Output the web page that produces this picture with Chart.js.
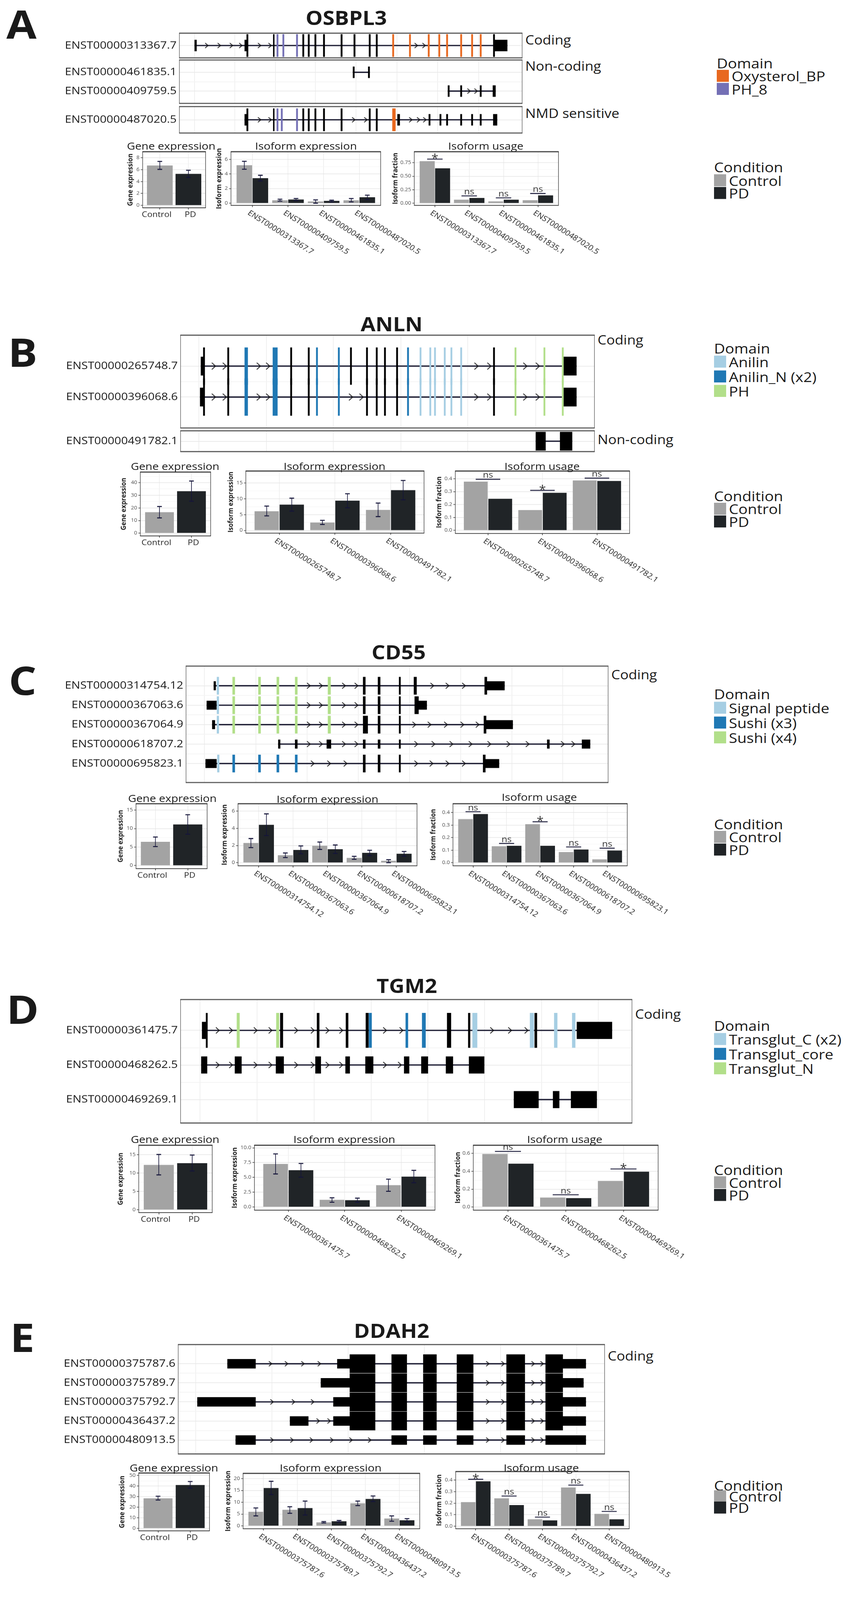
<!DOCTYPE html>
<html>
<head>
<meta charset="utf-8">
<title>Isoform switch plots</title>
<script src="https://cdn.jsdelivr.net/npm/chart.js@4.4.1/dist/chart.umd.min.js"></script>
<style>
  html, body { margin:0; padding:0; background:#ffffff; overflow:hidden; }
  #wrap { position:relative; width:2157px; height:4535px; overflow:hidden; background:#fff; }
  #page { position:relative; width:2157px; height:4535px; overflow:hidden; background:#fff;
          font-family:'Open Sans','Liberation Sans',Arial,sans-serif; color:#1a1a1a; }
  #page canvas { position:absolute; }
  .t { position:absolute; white-space:nowrap; line-height:1; }
  .sw { position:absolute; }
</style>
</head>
<body>
<div id="wrap"><div id="page"></div></div>
<script>
// ======================= DATA =======================
const conditions = ['Control', 'PD'];

// ---------- A : OSBPL3 ----------
const A_geneName = 'OSBPL3';
const A_transcripts = ['ENST00000313367.7', 'ENST00000461835.1', 'ENST00000409759.5', 'ENST00000487020.5'];
const A_domains = ['Oxysterol_BP', 'PH_8'];
// exon = [transcript row, start, end, kind]; kind 'u' = UTR / non-coding, 'c' = coding, 0/1/2 = coding inside domain
const A_exons = [
  [0,498,503,'u'],[0,626,633,'u'],[0,631,635,'c'],[0,699,702,'c'],[0,708,712,1],[0,723,727,1],[0,758,762,1],
  [0,774,778,'c'],[0,788,792,'c'],[0,805,809,'c'],[0,827,831,'c'],[0,872,876,'c'],[0,905,909,'c'],[0,944,948,'c'],[0,962,966,'c'],
  [0,1004,1008,0],[0,1047,1051,0],[0,1095,1099,0],[0,1122,1126,0],[0,1142,1146,0],[0,1178,1182,0],[0,1206,1210,0],[0,1228,1232,0],
  [0,1262,1266,'c'],[0,1264,1298,'u'],
  [1,903,907,'u'],[1,942,946,'u'],
  [2,1146,1150,'u'],[2,1178,1182,'u'],[2,1228,1232,'u'],[2,1261,1268,'u'],
  [3,626,633,'u'],[3,631,635,'c'],[3,699,702,'c'],[3,708,712,1],[3,719,723,1],[3,758,762,1],[3,774,778,'c'],[3,788,792,'c'],
  [3,805,809,'c'],[3,827,831,'c'],[3,872,876,'c'],[3,944,948,'c'],[3,962,966,'c'],[3,1004,1012,0],[3,1017,1023,'u'],
  [3,1097,1101,'u'],[3,1125,1129,'u'],[3,1142,1146,'u'],[3,1178,1182,'u'],[3,1206,1210,'u'],[3,1228,1232,'u'],[3,1262,1272,'u']
];
const A_arrows = [[0,529],[0,561],[0,592],[0,616],[0,664],[0,691],[0,1065],[0,1085],[2,1200],[2,1218],
  [3,664],[3,691],[3,905],[3,936],[3,1051],[3,1071],[3,1087]];
const A_gridPos = [498, 601, 705, 807, 911, 1016, 1120, 1225];
const A_geneExpr = [6.7, 5.3];
const A_geneLo = [6.05, 4.7];
const A_geneHi = [7.4, 5.9];
const A_isoforms = ['ENST00000313367.7', 'ENST00000409759.5', 'ENST00000461835.1', 'ENST00000487020.5'];
const A_isoCtrl = [5.2, 0.40, 0.24, 0.40];
const A_isoCtrlLo = [4.65, 0.29, 0.0, 0.19];
const A_isoCtrlHi = [5.73, 0.55, 0.45, 0.64];
const A_isoPD = [3.42, 0.50, 0.32, 0.82];
const A_isoPDLo = [3.05, 0.37, 0.19, 0.5];
const A_isoPDHi = [3.82, 0.64, 0.42, 1.1];
const A_useCtrl = [0.778, 0.065, 0.035, 0.055];
const A_usePD = [0.645, 0.098, 0.065, 0.145];
const A_sig = ['*', 'ns', 'ns', 'ns'];
const A_sigAt = [0.815, 0.135, 0.10, 0.18];
const A_geneTicks = [0, 2, 4, 6, 8];
const A_isoTicks = [0, 2, 4, 6];
const A_useTicks = [0, 0.25, 0.5, 0.75];
const A_useTickLabels = ['0.00', '0.25', '0.50', '0.75'];

// ---------- B : ANLN ----------
const B_geneName = 'ANLN';
const B_transcripts = ['ENST00000265748.7', 'ENST00000396068.6', 'ENST00000491782.1'];
const B_domains = ['Anilin', 'Anilin_N (x2)', 'PH'];
const B_exons = [
  [0,514,523,'u'],[0,520,524,'c'],[0,582,586,'c'],[0,626,634,1],[0,698,710,1],[0,743,747,'c'],[0,788,792,'c'],[0,809,813,1],
  [0,865,869,1],[0,896,900,'c'],[0,937,941,'c'],[0,962,966,'c'],[0,983,987,'c'],[0,1014,1018,'c'],[0,1042,1046,1],
  [0,1074,1078,0],[0,1099,1103,0],[0,1111,1115,0],[0,1136,1140,0],[0,1153,1157,0],[0,1178,1182,0],[0,1262,1266,'c'],
  [0,1317,1321,2],[0,1391,1395,2],[0,1438,1442,2],[0,1442,1475,'u'],
  [1,512,523,'u'],[1,520,524,'c'],[1,582,586,'c'],[1,626,634,1],[1,698,710,1],[1,743,747,'c'],[1,788,792,'c'],[1,809,813,1],
  [1,865,869,1],[1,937,941,'c'],[1,962,966,'c'],[1,983,987,'c'],[1,1014,1018,'c'],[1,1042,1046,1],
  [1,1074,1078,0],[1,1099,1103,0],[1,1111,1115,0],[1,1136,1140,0],[1,1153,1157,0],[1,1178,1182,0],[1,1262,1266,'c'],
  [1,1317,1321,2],[1,1391,1395,2],[1,1438,1442,2],[1,1442,1475,'u'],
  [2,1371,1396,'u'],[2,1433,1464,'u']
];
const B_arrows = [[0,547],[0,575],[0,662],[0,686],[0,1219],[0,1252],[0,1344],[0,1376],
  [1,547],[1,575],[1,662],[1,686],[1,898],[1,925],[1,1219],[1,1252],[1,1344],[1,1376]];
const B_gridPos = [509, 682, 853, 1026, 1197, 1371];
const B_geneExpr = [16.6, 33.2];
const B_geneLo = [12.1, 25.3];
const B_geneHi = [21.1, 41.3];
const B_isoforms = ['ENST00000265748.7', 'ENST00000396068.6', 'ENST00000491782.1'];
const B_isoCtrl = [6.07, 2.5, 6.49];
const B_isoCtrlLo = [4.6, 1.86, 4.36];
const B_isoCtrlHi = [7.7, 3.17, 8.65];
const B_isoPD = [8.17, 9.43, 12.75];
const B_isoPDLo = [6.1, 7.16, 9.69];
const B_isoPDHi = [10.2, 11.6, 15.8];
const B_useCtrl = [0.378, 0.157, 0.387];
const B_usePD = [0.245, 0.291, 0.383];
const B_sig = ['ns', '*', 'ns'];
const B_sigAt = [0.396, 0.31, 0.405];
const B_geneTicks = [0, 10, 20, 30, 40];
const B_isoTicks = [0, 5, 10, 15];
const B_useTicks = [0, 0.1, 0.2, 0.3, 0.4];
const B_useTickLabels = ['0.0', '0.1', '0.2', '0.3', '0.4'];

// ---------- C : CD55 ----------
const C_geneName = 'CD55';
const C_transcripts = ['ENST00000314754.12', 'ENST00000367063.6', 'ENST00000367064.9', 'ENST00000618707.2', 'ENST00000695823.1'];
const C_domains = ['Signal peptide', 'Sushi (x3)', 'Sushi (x4)'];
const C_exons = [
  [0,547,552,'u'],[0,555,560,0],[0,595,601,2],[0,661,667,2],[0,708,714,2],[0,755,761,2],[0,839,846,2],[0,929,935,'c'],
  [0,967,973,'c'],[0,1021,1025,'c'],[0,1059,1066,'c'],[0,1240,1246,'c'],[0,1244,1291,'u'],
  [1,529,554,'u'],[1,555,560,0],[1,595,601,2],[1,661,667,2],[1,708,714,2],[1,755,761,2],[1,839,846,2],[1,929,935,'c'],
  [1,967,973,'c'],[1,1021,1025,'c'],[1,1061,1071,'c'],[1,1068,1092,'u'],
  [2,543,550,'u'],[2,555,560,0],[2,595,601,2],[2,661,667,2],[2,708,714,2],[2,755,761,2],[2,839,846,2],[2,929,941,'c'],
  [2,967,973,'c'],[2,1021,1025,'c'],[2,1238,1244,'c'],[2,1240,1312,'u'],
  [3,712,717,'u'],[3,755,761,'u'],[3,836,847,'u'],[3,929,935,'u'],[3,967,973,'u'],[3,1021,1025,'u'],[3,1400,1406,'u'],[3,1489,1510,'u'],
  [4,526,554,'u'],[4,556,561,0],[4,595,601,1],[4,661,667,1],[4,708,714,1],[4,755,761,1],[4,929,935,'c'],[4,967,973,'c'],
  [4,1021,1025,'c'],[4,1236,1242,'c'],[4,1238,1277,'u']
];
const C_arrows = [[0,790],[0,821],[0,880],[0,912],[0,1106],[0,1145],[0,1187],
  [1,790],[1,821],[1,880],[1,912],
  [2,790],[2,821],[2,880],[2,912],[2,1060],[2,1099],[2,1141],[2,1183],[2,1222],
  [3,790],[3,821],[3,880],[3,912],[3,1065],[3,1109],[3,1155],[3,1204],[3,1252],[3,1301],[3,1350],[3,1440],[3,1467],
  [4,800],[4,842],[4,884],[4,1065],[4,1104],[4,1145],[4,1187]];
const C_gridPos = [523, 655, 786, 917, 1048, 1179, 1310, 1440];
const C_geneExpr = [6.4, 11.1];
const C_geneLo = [5.14, 8.48];
const C_geneHi = [7.71, 13.74];
const C_isoforms = ['ENST00000314754.12', 'ENST00000367063.6', 'ENST00000367064.9', 'ENST00000618707.2', 'ENST00000695823.1'];
const C_isoCtrl = [2.3, 0.87, 1.97, 0.56, 0.22];
const C_isoCtrlLo = [1.76, 0.6, 1.54, 0.39, 0.01];
const C_isoCtrlHi = [2.81, 1.13, 2.4, 0.74, 0.35];
const C_isoPD = [4.41, 1.49, 1.57, 1.15, 1.04];
const C_isoPDLo = [3.16, 1.04, 1.08, 0.83, 0.76];
const C_isoPDHi = [5.68, 1.95, 2.06, 1.45, 1.31];
const C_useCtrl = [0.348, 0.132, 0.308, 0.085, 0.027];
const C_usePD = [0.389, 0.135, 0.135, 0.106, 0.097];
const C_sig = ['ns', 'ns', '*', 'ns', 'ns'];
const C_sigAt = [0.407, 0.154, 0.327, 0.126, 0.116];
const C_geneTicks = [0, 5, 10, 15];
const C_isoTicks = [0, 2, 4, 6];
const C_useTicks = [0, 0.1, 0.2, 0.3, 0.4];
const C_useTickLabels = ['0.0', '0.1', '0.2', '0.3', '0.4'];

// ---------- D : TGM2 ----------
const D_geneName = 'TGM2';
const D_transcripts = ['ENST00000361475.7', 'ENST00000468262.5', 'ENST00000469269.1'];
const D_domains = ['Transglut_C (x2)', 'Transglut_core', 'Transglut_N'];
const D_exons = [
  [0,517,527,'u'],[0,527,531,'c'],[0,606,613,2],[0,707,714,2],[0,717,724,'c'],[0,811,817,'c'],[0,885,891,'c'],[0,936,943,'c'],
  [0,944,951,1],[0,1038,1044,1],[0,1080,1089,1],[0,1144,1154,'c'],[0,1198,1203,'c'],[0,1209,1221,0],[0,1356,1366,0],
  [0,1368,1374,'c'],[0,1418,1426,0],[0,1464,1472,0],[0,1476,1566,'u'],
  [1,515,530,'u'],[1,601,618,'u'],[1,706,726,'u'],[1,807,821,'u'],[1,884,895,'u'],[1,935,955,'u'],[1,1034,1047,'u'],
  [1,1078,1095,'u'],[1,1141,1159,'u'],[1,1200,1239,'u'],
  [2,1315,1378,'u'],[2,1415,1431,'u'],[2,1461,1527,'u']
];
const D_arrows = [[0,557],[0,591],[0,654],[0,692],[0,758],[0,800],[0,838],[0,873],[0,985],[0,1027],[0,1259],[0,1305],[0,1347],
  [1,557],[1,591],[1,654],[1,692],[1,758],[1,800],[1,838],[1,873],[1,985],[1,1023]];
const D_gridPos = [512, 658, 804, 950, 1095, 1240, 1386, 1531];
const D_geneExpr = [12.2, 12.7];
const D_geneLo = [9.5, 10.56];
const D_geneHi = [15.04, 14.88];
const D_isoforms = ['ENST00000361475.7', 'ENST00000468262.5', 'ENST00000469269.1'];
const D_isoCtrl = [7.28, 1.21, 3.68];
const D_isoCtrlLo = [5.59, 0.8, 2.64];
const D_isoCtrlHi = [8.97, 1.55, 4.7];
const D_isoPD = [6.22, 1.15, 5.13];
const D_isoPDLo = [5.03, 0.8, 4.1];
const D_isoPDHi = [7.36, 1.49, 6.19];
const D_useCtrl = [0.594, 0.105, 0.291];
const D_usePD = [0.485, 0.099, 0.395];
const D_sig = ['ns', 'ns', '*'];
const D_sigAt = [0.623, 0.136, 0.426];
const D_geneTicks = [0, 5, 10, 15];
const D_isoTicks = [0, 2.5, 5, 7.5, 10];
const D_isoTickLabels = ['0.0', '2.5', '5.0', '7.5', '10.0'];
const D_useTicks = [0, 0.2, 0.4, 0.6];
const D_useTickLabels = ['0.0', '0.2', '0.4', '0.6'];

// ---------- E : DDAH2 ----------
const E_geneName = 'DDAH2';
const E_transcripts = ['ENST00000375787.6', 'ENST00000375789.7', 'ENST00000375792.7', 'ENST00000436437.2', 'ENST00000480913.5'];
const E_exons = [
  [0,582,654,'u'],[0,863,895,'u'],[0,895,960,'c'],[0,1002,1041,'c'],[0,1083,1117,'c'],[0,1169,1211,'c'],[0,1296,1343,'c'],[0,1396,1440,'c'],[0,1440,1499,'u'],
  [1,821,895,'u'],[1,895,960,'c'],[1,1002,1041,'c'],[1,1083,1117,'c'],[1,1169,1211,'c'],[1,1296,1343,'c'],[1,1396,1440,'c'],[1,1440,1493,'u'],
  [2,505,654,'u'],[2,853,895,'u'],[2,895,960,'c'],[2,1002,1041,'c'],[2,1083,1117,'c'],[2,1169,1211,'c'],[2,1296,1343,'c'],[2,1396,1440,'c'],[2,1440,1499,'u'],
  [3,742,789,'u'],[3,853,895,'u'],[3,895,960,'c'],[3,1002,1041,'c'],[3,1083,1117,'c'],[3,1169,1211,'c'],[3,1296,1343,'c'],[3,1396,1440,'c'],[3,1440,1499,'u'],
  [4,603,654,'u'],[4,1002,1041,'u'],[4,1083,1117,'u'],[4,1169,1211,'u'],[4,1296,1343,'u'],[4,1396,1499,'u']
];
const E_arrows = [[0,692],[0,733],[0,775],[0,817],[0,1248],[0,1287],[0,1364],[0,1387],
  [1,1248],[1,1287],[1,1364],[1,1387],
  [2,696],[2,751],[2,800],[2,1248],[2,1287],[2,1364],[2,1387],
  [3,814],[3,842],[3,1248],[3,1287],[3,1364],[3,1387],
  [4,696],[4,747],[4,797],[4,849],[4,898],[4,946],[4,1248],[4,1287],[4,1364],[4,1387]];
const E_gridPos = [501, 696, 891, 1086, 1281, 1476];
const E_geneExpr = [28.4, 41.0];
const E_geneLo = [26.8, 38.1];
const E_geneHi = [30.4, 44.3];
const E_isoforms = ['ENST00000375787.6', 'ENST00000375789.7', 'ENST00000375792.7', 'ENST00000436437.2', 'ENST00000480913.5'];
const E_isoCtrl = [5.95, 6.8, 1.49, 9.57, 3.13];
const E_isoCtrlLo = [4.22, 5.36, 1.24, 8.58, 1.98];
const E_isoCtrlHi = [7.59, 8.09, 1.84, 10.5, 4.22];
const E_isoPD = [16.03, 7.54, 1.98, 11.4, 2.38];
const E_isoPDLo = [13.24, 4.61, 1.64, 10.3, 1.74];
const E_isoPDHi = [18.85, 10.5, 2.34, 12.65, 3.08];
const E_useCtrl = [0.209, 0.242, 0.06, 0.336, 0.107];
const E_usePD = [0.39, 0.183, 0.051, 0.28, 0.06];
const E_sig = ['*', 'ns', 'ns', 'ns', 'ns'];
const E_sigAt = [0.407, 0.262, 0.079, 0.357, 0.128];
const E_geneTicks = [0, 10, 20, 30, 40, 50];
const E_isoTicks = [0, 5, 10, 15, 20];
const E_useTicks = [0, 0.1, 0.2, 0.3, 0.4];
const E_useTickLabels = ['0.0', '0.1', '0.2', '0.3', '0.4'];

// ======================= STYLE / LAYOUT =======================
const FONT = "'Open Sans', 'Liberation Sans', Arial, sans-serif";
const STYLE = {
  ctrl: '#a3a3a3', pd: '#202427',
  exon: '#000000', intron: '#17172e', arrow: '#111111', err: '#15153a', sigLine: '#1b1b3a',
  domainColors: {
    A: ['#e8681f', '#7470b5'],
    B: ['#a6cee3', '#1f78b4', '#b2df8a'],
    C: ['#a6cee3', '#1f78b4', '#b2df8a'],
    D: ['#a6cee3', '#1f78b4', '#b2df8a']
  }
};

const LAYOUT = {
  A: {
    letter: [55, 67], title: [886, 49],
    struct: { labelLeft: 150, L: 459, R: 1336, full: 0.8, half: 0.4, arrow: 13,
      boxes: [
        { T: 94,  B: 164, min: -0.44, max: 0.44, rows: [0],    facet: 'Coding',        fy: 113 },
        { T: 170, B: 293, min: -0.27, max: 1.27, rows: [1, 2], facet: 'Non-coding',    fy: 187 },
        { T: 302, B: 377, min: -0.47, max: 0.47, rows: [3],    facet: 'NMD sensitive', fy: 321 } ] },
    domainLegend: { x: 1834, y: 178, first: 37, dy: 37 },
    condLegend:   { x: 1827, y: 473, first: 38, dy: 36 },
    gene: { L: 365, T: 430, R: 526, B: 589, min: -0.42, max: 9.02, yw: 46, title: [438, 413] },
    iso:  { L: 591, T: 430, R: 974, B: 582, min: -0.29, max: 7.04, yw: 45, title: [783, 413] },
    use:  { L: 1060, T: 430, R: 1429, B: 582, min: -0.039, max: 0.952, yw: 63, title: [1243, 413] }
  },
  B: {
    letter: [58, 997], title: [1002, 917],
    struct: { labelLeft: 150, L: 462, R: 1521, full: 0.8, half: 0.4, arrow: 18,
      boxes: [
        { T: 950,  B: 1213, min: -0.5,   max: 1.5,   rows: [0, 1], facet: 'Coding',     fy: 964 },
        { T: 1221, B: 1280, min: -0.225, max: 0.225, rows: [2],    facet: 'Non-coding', fy: 1246 } ] },
    domainLegend: { x: 1827, y: 986, first: 39, dy: 41.5 },
    condLegend:   { x: 1827, y: 1405, first: 37, dy: 36 },
    gene: { L: 359, T: 1338, R: 539, B: 1519, min: -2.2, max: 48.4, yw: 57, title: [448, 1320] },
    iso:  { L: 629, T: 1335, R: 1085, B: 1511, min: -0.86, max: 18.8, yw: 53, title: [856, 1320] },
    use:  { L: 1165, T: 1335, R: 1611, B: 1512, min: -0.024, max: 0.46, yw: 56, title: [1387, 1320] }
  },
  C: {
    letter: [58, 1927], title: [1020, 1847],
    struct: { labelLeft: 150, L: 476, R: 1556, full: 0.8, half: 0.4, arrow: 15,
      boxes: [ { T: 1888, B: 2218, min: -0.677, max: 4.645, rows: [0, 1, 2, 3, 4], facet: 'Coding', fy: 1912 } ] },
    domainLegend: { x: 1827, y: 1966, first: 40, dy: 42 },
    condLegend:   { x: 1827, y: 2335, first: 37, dy: 36 },
    gene: { L: 348, T: 2278, R: 530, B: 2462, min: -0.83, max: 16.7, yw: 54, title: [441, 2262] },
    iso:  { L: 609, T: 2278, R: 1067, B: 2454, min: -0.36, max: 6.86, yw: 49, title: [838, 2264] },
    use:  { L: 1159, T: 2278, R: 1605, B: 2454, min: -0.0245, max: 0.471, yw: 65, title: [1380, 2258] }
  },
  D: {
    letter: [58, 2859], title: [1041, 2793],
    struct: { labelLeft: 150, L: 462, R: 1617, full: 0.8, half: 0.39, arrow: 16,
      boxes: [ { T: 2833, B: 3183, min: -0.535, max: 2.32, rows: [0, 1, 2], facet: 'Coding', fy: 2874 } ] },
    domainLegend: { x: 1827, y: 2906, first: 39, dy: 41.5 },
    condLegend:   { x: 1827, y: 3315, first: 36, dy: 36 },
    gene: { L: 355, T: 3246, R: 543, B: 3437, min: -0.77, max: 17.56, yw: 61, title: [448, 3228] },
    iso:  { L: 651, T: 3246, R: 1113, B: 3430, min: -0.54, max: 10.44, yw: 65, title: [881, 3228] },
    use:  { L: 1211, T: 3246, R: 1684, B: 3430, min: -0.036, max: 0.692, yw: 54, title: [1445, 3228] }
  },
  E: {
    letter: [57, 3789], title: [1002, 3771],
    struct: { labelLeft: 150, L: 456, R: 1547, full: 0.86, half: 0.43, arrow: 13,
      boxes: [ { T: 3811, B: 4121, min: -0.686, max: 4.41, rows: [0, 1, 2, 3, 4], facet: 'Coding', fy: 3843 } ] },
    domainLegend: null,
    condLegend:   { x: 1827, y: 4209, first: 32, dy: 32 },
    gene: { L: 355, T: 4175, R: 536, B: 4339, min: -2.44, max: 52.4, yw: 57, title: [445, 4159] },
    iso:  { L: 622, T: 4176, R: 1074, B: 4333, min: -1.19, max: 22.2, yw: 53, title: [846, 4159] },
    use:  { L: 1166, T: 4171, R: 1610, B: 4333, min: -0.022, max: 0.474, yw: 57, title: [1385, 4159] }
  }
};

// Assemble panels from the named arrays
const PANELS = [
  { key: 'A', gene: A_geneName, tx: A_transcripts, domains: A_domains, exons: A_exons, arrows: A_arrows, grid: A_gridPos,
    geneExpr: A_geneExpr, geneLo: A_geneLo, geneHi: A_geneHi, isoforms: A_isoforms,
    isoCtrl: A_isoCtrl, isoCtrlLo: A_isoCtrlLo, isoCtrlHi: A_isoCtrlHi, isoPD: A_isoPD, isoPDLo: A_isoPDLo, isoPDHi: A_isoPDHi,
    useCtrl: A_useCtrl, usePD: A_usePD, sig: A_sig, sigAt: A_sigAt,
    geneTicks: A_geneTicks, isoTicks: A_isoTicks, useTicks: A_useTicks, useTickLabels: A_useTickLabels },
  { key: 'B', gene: B_geneName, tx: B_transcripts, domains: B_domains, exons: B_exons, arrows: B_arrows, grid: B_gridPos,
    geneExpr: B_geneExpr, geneLo: B_geneLo, geneHi: B_geneHi, isoforms: B_isoforms,
    isoCtrl: B_isoCtrl, isoCtrlLo: B_isoCtrlLo, isoCtrlHi: B_isoCtrlHi, isoPD: B_isoPD, isoPDLo: B_isoPDLo, isoPDHi: B_isoPDHi,
    useCtrl: B_useCtrl, usePD: B_usePD, sig: B_sig, sigAt: B_sigAt,
    geneTicks: B_geneTicks, isoTicks: B_isoTicks, useTicks: B_useTicks, useTickLabels: B_useTickLabels },
  { key: 'C', gene: C_geneName, tx: C_transcripts, domains: C_domains, exons: C_exons, arrows: C_arrows, grid: C_gridPos,
    geneExpr: C_geneExpr, geneLo: C_geneLo, geneHi: C_geneHi, isoforms: C_isoforms,
    isoCtrl: C_isoCtrl, isoCtrlLo: C_isoCtrlLo, isoCtrlHi: C_isoCtrlHi, isoPD: C_isoPD, isoPDLo: C_isoPDLo, isoPDHi: C_isoPDHi,
    useCtrl: C_useCtrl, usePD: C_usePD, sig: C_sig, sigAt: C_sigAt,
    geneTicks: C_geneTicks, isoTicks: C_isoTicks, useTicks: C_useTicks, useTickLabels: C_useTickLabels },
  { key: 'D', gene: D_geneName, tx: D_transcripts, domains: D_domains, exons: D_exons, arrows: D_arrows, grid: D_gridPos,
    geneExpr: D_geneExpr, geneLo: D_geneLo, geneHi: D_geneHi, isoforms: D_isoforms,
    isoCtrl: D_isoCtrl, isoCtrlLo: D_isoCtrlLo, isoCtrlHi: D_isoCtrlHi, isoPD: D_isoPD, isoPDLo: D_isoPDLo, isoPDHi: D_isoPDHi,
    useCtrl: D_useCtrl, usePD: D_usePD, sig: D_sig, sigAt: D_sigAt,
    geneTicks: D_geneTicks, isoTicks: D_isoTicks, isoTickLabels: D_isoTickLabels, useTicks: D_useTicks, useTickLabels: D_useTickLabels },
  { key: 'E', gene: E_geneName, tx: E_transcripts, domains: [], exons: E_exons, arrows: E_arrows, grid: E_gridPos,
    geneExpr: E_geneExpr, geneLo: E_geneLo, geneHi: E_geneHi, isoforms: E_isoforms,
    isoCtrl: E_isoCtrl, isoCtrlLo: E_isoCtrlLo, isoCtrlHi: E_isoCtrlHi, isoPD: E_isoPD, isoPDLo: E_isoPDLo, isoPDHi: E_isoPDHi,
    useCtrl: E_useCtrl, usePD: E_usePD, sig: E_sig, sigAt: E_sigAt,
    geneTicks: E_geneTicks, isoTicks: E_isoTicks, useTicks: E_useTicks, useTickLabels: E_useTickLabels }
];

// ======================= HELPERS =======================
Chart.defaults.font.family = FONT;
Chart.defaults.color = '#333';
const page = document.getElementById('page');

function addText(str, x, y, size, o = {}) {
  const d = document.createElement('div');
  d.className = 't';
  d.textContent = str;
  d.style.left = x + 'px';
  d.style.top = y + 'px';
  d.style.fontSize = size + 'px';
  d.style.fontWeight = o.weight || 400;
  if (o.color) d.style.color = o.color;
  const tx = o.align === 'center' ? '-50%' : (o.align === 'right' ? '-100%' : '0');
  d.style.transform = 'translate(' + tx + ', -50%)';
  page.appendChild(d);
  return d;
}

function addCanvas(left, top, w, h) {
  const c = document.createElement('canvas');
  w = Math.round(w); h = Math.round(h);
  c.width = w; c.height = h;
  c.style.left = Math.round(left) + 'px';
  c.style.top = Math.round(top) + 'px';
  c.style.width = w + 'px';
  c.style.height = h + 'px';
  page.appendChild(c);
  return c;
}

function addLegend(title, names, colors, cfg) {
  addText(title, cfg.x, cfg.y, 39);
  names.forEach((nm, i) => {
    const cy = cfg.y + cfg.first + i * cfg.dy;
    const sw = document.createElement('div');
    sw.className = 'sw';
    sw.style.left = cfg.x + 'px';
    sw.style.top = (cy - 17) + 'px';
    sw.style.width = '31px';
    sw.style.height = '34px';
    sw.style.background = colors[i];
    page.appendChild(sw);
    addText(nm, cfg.x + 38, cy, 39);
  });
}

function chevron(h) {
  const w = Math.round(h * 0.5), pad = 2;
  const c = document.createElement('canvas');
  c.width = w + pad * 2; c.height = Math.round(h) + pad * 2;
  const g = c.getContext('2d');
  g.strokeStyle = STYLE.arrow; g.lineWidth = 2; g.lineCap = 'round'; g.lineJoin = 'miter';
  g.beginPath();
  g.moveTo(pad, pad); g.lineTo(pad + w, pad + h / 2); g.lineTo(pad, pad + h);
  g.stroke();
  return c;
}

// ---------- plugins ----------
const framePlugin = {
  id: 'frame',
  afterDraw(chart, args, o) {
    const ctx = chart.ctx, a = chart.chartArea;
    ctx.save();
    ctx.strokeStyle = o.side; ctx.lineWidth = o.sideW;
    ctx.beginPath();
    ctx.moveTo(a.left, a.top); ctx.lineTo(a.left, a.bottom);
    ctx.moveTo(a.right, a.top); ctx.lineTo(a.right, a.bottom);
    ctx.stroke();
    ctx.fillStyle = o.edge;
    ctx.fillRect(a.left - o.sideW / 2, a.top - o.topW / 2, a.right - a.left + o.sideW, o.topW);
    ctx.fillRect(a.left - o.sideW / 2, a.bottom - o.botW / 2, a.right - a.left + o.sideW, o.botW);
    ctx.restore();
  }
};

const errorBarPlugin = {
  id: 'errorBars',
  afterDatasetsDraw(chart) {
    const ctx = chart.ctx, ys = chart.scales.y;
    chart.data.datasets.forEach((ds, di) => {
      if (!ds.errLo) return;
      chart.getDatasetMeta(di).data.forEach((bar, i) => {
        const x = bar.x;
        const y1 = ys.getPixelForValue(ds.errLo[i]);
        const y2 = ys.getPixelForValue(ds.errHi[i]);
        ctx.save();
        ctx.strokeStyle = STYLE.err;
        ctx.lineWidth = 1.6;
        ctx.beginPath(); ctx.moveTo(x, y1); ctx.lineTo(x, y2); ctx.stroke();
        ctx.lineWidth = 2.8;
        ctx.beginPath();
        ctx.moveTo(x - 6, y1); ctx.lineTo(x + 6, y1);
        ctx.moveTo(x - 6, y2); ctx.lineTo(x + 6, y2);
        ctx.stroke();
        ctx.restore();
      });
    });
  }
};

const sigPlugin = {
  id: 'sigMarks',
  afterDatasetsDraw(chart, args, o) {
    if (!o.labels) return;
    const ctx = chart.ctx, ys = chart.scales.y;
    const m0 = chart.getDatasetMeta(0), m1 = chart.getDatasetMeta(1);
    o.labels.forEach((lab, i) => {
      const x0 = m0.data[i].x, x1 = m1.data[i].x, y = ys.getPixelForValue(o.at[i]);
      ctx.save();
      ctx.strokeStyle = STYLE.sigLine; ctx.lineWidth = 2.6;
      ctx.beginPath(); ctx.moveTo(x0, y); ctx.lineTo(x1, y); ctx.stroke();
      ctx.fillStyle = '#333'; ctx.textAlign = 'center'; ctx.textBaseline = 'alphabetic';
      if (lab === '*') { ctx.font = '32px ' + FONT; ctx.fillText(lab, (x0 + x1) / 2, y + 9); }
      else { ctx.font = '24px ' + FONT; ctx.fillText(lab, (x0 + x1) / 2, y - 4); }
      ctx.restore();
    });
  }
};

// category labels under the x axis (rotated for isoforms, flat for conditions)
const catLabelPlugin = {
  id: 'catLabels',
  afterDraw(chart, args, o) {
    if (!o.labels) return;
    const ctx = chart.ctx, xs = chart.scales.x, b = chart.chartArea.bottom;
    ctx.save();
    ctx.font = o.size + 'px ' + FONT;
    ctx.fillStyle = o.color;
    ctx.textAlign = o.align || 'left';
    ctx.textBaseline = 'top';
    o.labels.forEach((lab, i) => {
      const dx = Array.isArray(o.dx) ? o.dx[i] : o.dx;
      ctx.save();
      ctx.translate(xs.getPixelForValue(i) + dx, b + o.dy);
      ctx.rotate(o.angle * Math.PI / 180);
      ctx.fillText(lab, 0, 0);
      ctx.restore();
    });
    ctx.restore();
  }
};

// ---------- transcript structure ----------
function buildStructure(P, S, colors) {
  const chev = chevron(S.arrow);
  S.boxes.forEach(box => {
    const rows = box.rows;
    const H = box.B - box.T;
    const unit = H / (box.max - box.min);
    const padT = 30, padB = 30;
    const cv = addCanvas(S.labelLeft, box.T - padT, S.R - S.labelLeft + 6, H + padT + padB);
    const loc = r => rows.indexOf(r);
    const ex = P.exons.filter(e => rows.includes(e[0]));
    const introns = rows.map(r => {
      const es = P.exons.filter(e => e[0] === r);
      return { x: [Math.min(...es.map(e => e[1])), Math.max(...es.map(e => e[2]))], y: loc(r) };
    });
    const barDs = (label, data, thick, color, order) => ({
      type: 'bar', label, indexAxis: 'y', grouped: false, data,
      barThickness: thick, backgroundColor: color, borderWidth: 0, order
    });
    const exData = pred => ex.filter(pred).map(e => ({ x: [e[1], e[2]], y: loc(e[0]) }));
    const datasets = [
      barDs('intron', introns, 3, STYLE.intron, 9),
      { type: 'scatter', label: 'direction', order: 8, pointStyle: chev, pointRadius: 4,
        data: P.arrows.filter(a => rows.includes(a[0])).map(a => ({ x: a[1], y: loc(a[0]) })) },
      barDs('UTR / non-coding exon', exData(e => e[3] === 'u'), S.half * unit, STYLE.exon, 7),
      barDs('coding exon', exData(e => e[3] === 'c'), S.full * unit, STYLE.exon, 6)
    ];
    colors.forEach((c, k) => datasets.push(barDs(P.domains[k], exData(e => e[3] === k), S.full * unit, c, 5 - k)));

    new Chart(cv, {
      type: 'bar',
      data: { datasets },
      options: {
        responsive: false, animation: false, indexAxis: 'y',
        layout: { padding: { top: padT, right: 6, left: 0, bottom: 0 } },
        plugins: {
          legend: { display: false }, tooltip: { enabled: false },
          frame: { side: '#6e6e6e', sideW: 1.5, edge: '#505050', topW: 3, botW: 3 }
        },
        scales: {
          x: {
            type: 'linear', min: S.L, max: S.R,
            afterBuildTicks: s => { s.ticks = P.grid.map(v => ({ value: v })); },
            ticks: { display: false },
            grid: { color: '#ebebeb', lineWidth: 1.5, drawTicks: false, offset: false },
            border: { display: false },
            afterFit: s => { s.height = padB; }
          },
          y: {
            type: 'linear', reverse: true, min: box.min, max: box.max,
            afterBuildTicks: s => {
              const t = [];
              for (let v = 0; v <= rows.length - 1 + 1e-9; v += 0.5) t.push({ value: v });
              s.ticks = t;
            },
            ticks: {
              autoSkip: false, padding: 7, color: '#1a1a1a', font: { size: 30 },
              callback: v => Number.isInteger(v) ? P.tx[rows[v]] : ''
            },
            grid: {
              drawTicks: false, lineWidth: 2, offset: false,
              color: c => (c.tick && Number.isInteger(c.tick.value)) ? '#e9e9e9' : '#f3f3f3'
            },
            border: { display: false },
            afterFit: s => { s.width = S.L - S.labelLeft; }
          }
        }
      },
      plugins: [framePlugin]
    });
  });
}

// ---------- bar charts ----------
function buildBarChart(box, yTitle, datasets, yTicks, yTickLabels, n, extra) {
  const rot = extra.labels.angle !== 0;
  const tp = 14, bh = rot ? 175 : 52, rp = rot ? 200 : 12;
  const W = box.R - box.L, H = box.B - box.T;
  const cv = addCanvas(box.L - box.yw, box.T - tp, box.yw + W + rp, tp + H + bh);
  const step = yTicks[1] - yTicks[0];
  const minors = yTicks.map(v => v + step / 2).filter(v => v < box.max);
  const all = yTicks.concat(minors).sort((a, b) => a - b);
  const isMajor = v => yTicks.some(t => Math.abs(t - v) < 1e-9);
  const labels = yTickLabels || yTicks.map(String);
  const idx = Array.from({ length: n }, (_, i) => i);

  new Chart(cv, {
    type: 'bar',
    data: { datasets },
    options: {
      responsive: false, animation: false,
      layout: { padding: { top: tp, right: rp, left: 0, bottom: 0 } },
      plugins: {
        legend: { display: false }, tooltip: { enabled: false },
        frame: { side: '#333333', sideW: 1.3, edge: '#333333', topW: 3, botW: 2 },
        sigMarks: extra.sig || {},
        catLabels: extra.labels
      },
      scales: {
        x: {
          type: 'linear', min: -0.6, max: n - 0.4, offset: false,
          afterBuildTicks: s => { s.ticks = idx.map(v => ({ value: v })); },
          ticks: { display: false },
          grid: { color: '#ececec', lineWidth: 1.5, tickLength: 5, tickColor: '#333', offset: false },
          border: { display: false },
          afterFit: s => { s.height = bh; }
        },
        y: {
          type: 'linear', min: box.min, max: box.max,
          afterBuildTicks: s => { s.ticks = all.map(v => ({ value: v })); },
          ticks: {
            autoSkip: false, padding: 3, color: '#4d4d4d', font: { size: 14 },
            callback: v => { const k = yTicks.findIndex(t => Math.abs(t - v) < 1e-9); return k >= 0 ? labels[k] : ''; }
          },
          grid: {
            color: c => (c.tick && isMajor(c.tick.value)) ? '#e2e2e2' : '#f2f2f2',
            lineWidth: c => (c.tick && isMajor(c.tick.value)) ? 1.6 : 1,
            tickLength: 5,
            tickColor: c => (c.tick && isMajor(c.tick.value)) ? '#444' : 'rgba(0,0,0,0)'
          },
          border: { display: false },
          title: { display: true, text: yTitle, color: '#1a1a1a', font: { size: 18, weight: 'bold' }, padding: { top: 4, bottom: 0 } },
          afterFit: s => { s.width = box.yw; }
        }
      }
    },
    plugins: [framePlugin, errorBarPlugin, sigPlugin, catLabelPlugin]
  });
}

// ======================= RENDER =======================
PANELS.forEach(P => {
  const Lo = LAYOUT[P.key];
  const colors = STYLE.domainColors[P.key] || [];
  addText(P.key, Lo.letter[0], Lo.letter[1], 112, { weight: 700, align: 'center' });
  addText(P.gene, Lo.title[0], Lo.title[1], 55, { weight: 700, align: 'center' });

  buildStructure(P, Lo.struct, colors);
  Lo.struct.boxes.forEach(b => addText(b.facet, Lo.struct.R + 8, b.fy, 36));

  if (Lo.domainLegend) addLegend('Domain', P.domains, colors, Lo.domainLegend);
  addLegend('Condition', conditions, [STYLE.ctrl, STYLE.pd], Lo.condLegend);

  addText('Gene expression', Lo.gene.title[0], Lo.gene.title[1], 29, { align: 'center' });
  addText('Isoform expression', Lo.iso.title[0], Lo.iso.title[1], 29, { align: 'center' });
  addText('Isoform usage', Lo.use.title[0], Lo.use.title[1], 29, { align: 'center' });

  const n = P.isoforms.length;
  const rotCfg = { labels: P.isoforms, size: 21, color: '#222', dx: -4, dy: 11, angle: 35, align: 'left' };
  const condCfg = { labels: conditions, size: 22, color: '#222', dx: [-8, 5], dy: 9, angle: 0, align: 'center' };

  buildBarChart(Lo.gene, 'Gene expression', [{
    label: 'Gene expression',
    data: P.geneExpr.map((v, i) => ({ x: i, y: v })),
    backgroundColor: [STYLE.ctrl, STYLE.pd], borderWidth: 0,
    categoryPercentage: 0.9, barPercentage: 1,
    errLo: P.geneLo, errHi: P.geneHi
  }], P.geneTicks, P.geneTickLabels, 2, { labels: condCfg });

  buildBarChart(Lo.iso, 'Isoform expression', [
    { label: 'Control', data: P.isoCtrl.map((v, i) => ({ x: i, y: v })), backgroundColor: STYLE.ctrl, borderWidth: 0,
      categoryPercentage: 0.9, barPercentage: 0.97, errLo: P.isoCtrlLo, errHi: P.isoCtrlHi },
    { label: 'PD', data: P.isoPD.map((v, i) => ({ x: i, y: v })), backgroundColor: STYLE.pd, borderWidth: 0,
      categoryPercentage: 0.9, barPercentage: 0.97, errLo: P.isoPDLo, errHi: P.isoPDHi }
  ], P.isoTicks, P.isoTickLabels, n, { labels: rotCfg });

  buildBarChart(Lo.use, 'Isoform fraction', [
    { label: 'Control', data: P.useCtrl.map((v, i) => ({ x: i, y: v })), backgroundColor: STYLE.ctrl, borderWidth: 0,
      categoryPercentage: 0.9, barPercentage: 0.97 },
    { label: 'PD', data: P.usePD.map((v, i) => ({ x: i, y: v })), backgroundColor: STYLE.pd, borderWidth: 0,
      categoryPercentage: 0.9, barPercentage: 0.97 }
  ], P.useTicks, P.useTickLabels, n, { labels: rotCfg, sig: { labels: P.sig, at: P.sigAt } });
});

// The browser window may be shorter than the 4535 px figure: fit the whole figure into the viewport height.
(function fitToViewport() {
  const FIG_H = 4535;
  const vh = window.innerHeight || FIG_H;
  const s = vh < FIG_H ? vh / FIG_H : 1;
  const wrap = document.getElementById('wrap');
  wrap.style.height = Math.floor(FIG_H * s) + 'px';
  if (s < 1) {
    page.style.transformOrigin = '0 0';
    page.style.transform = 'scaleY(' + s + ')';
  }
})();
</script>
</body>
</html>
